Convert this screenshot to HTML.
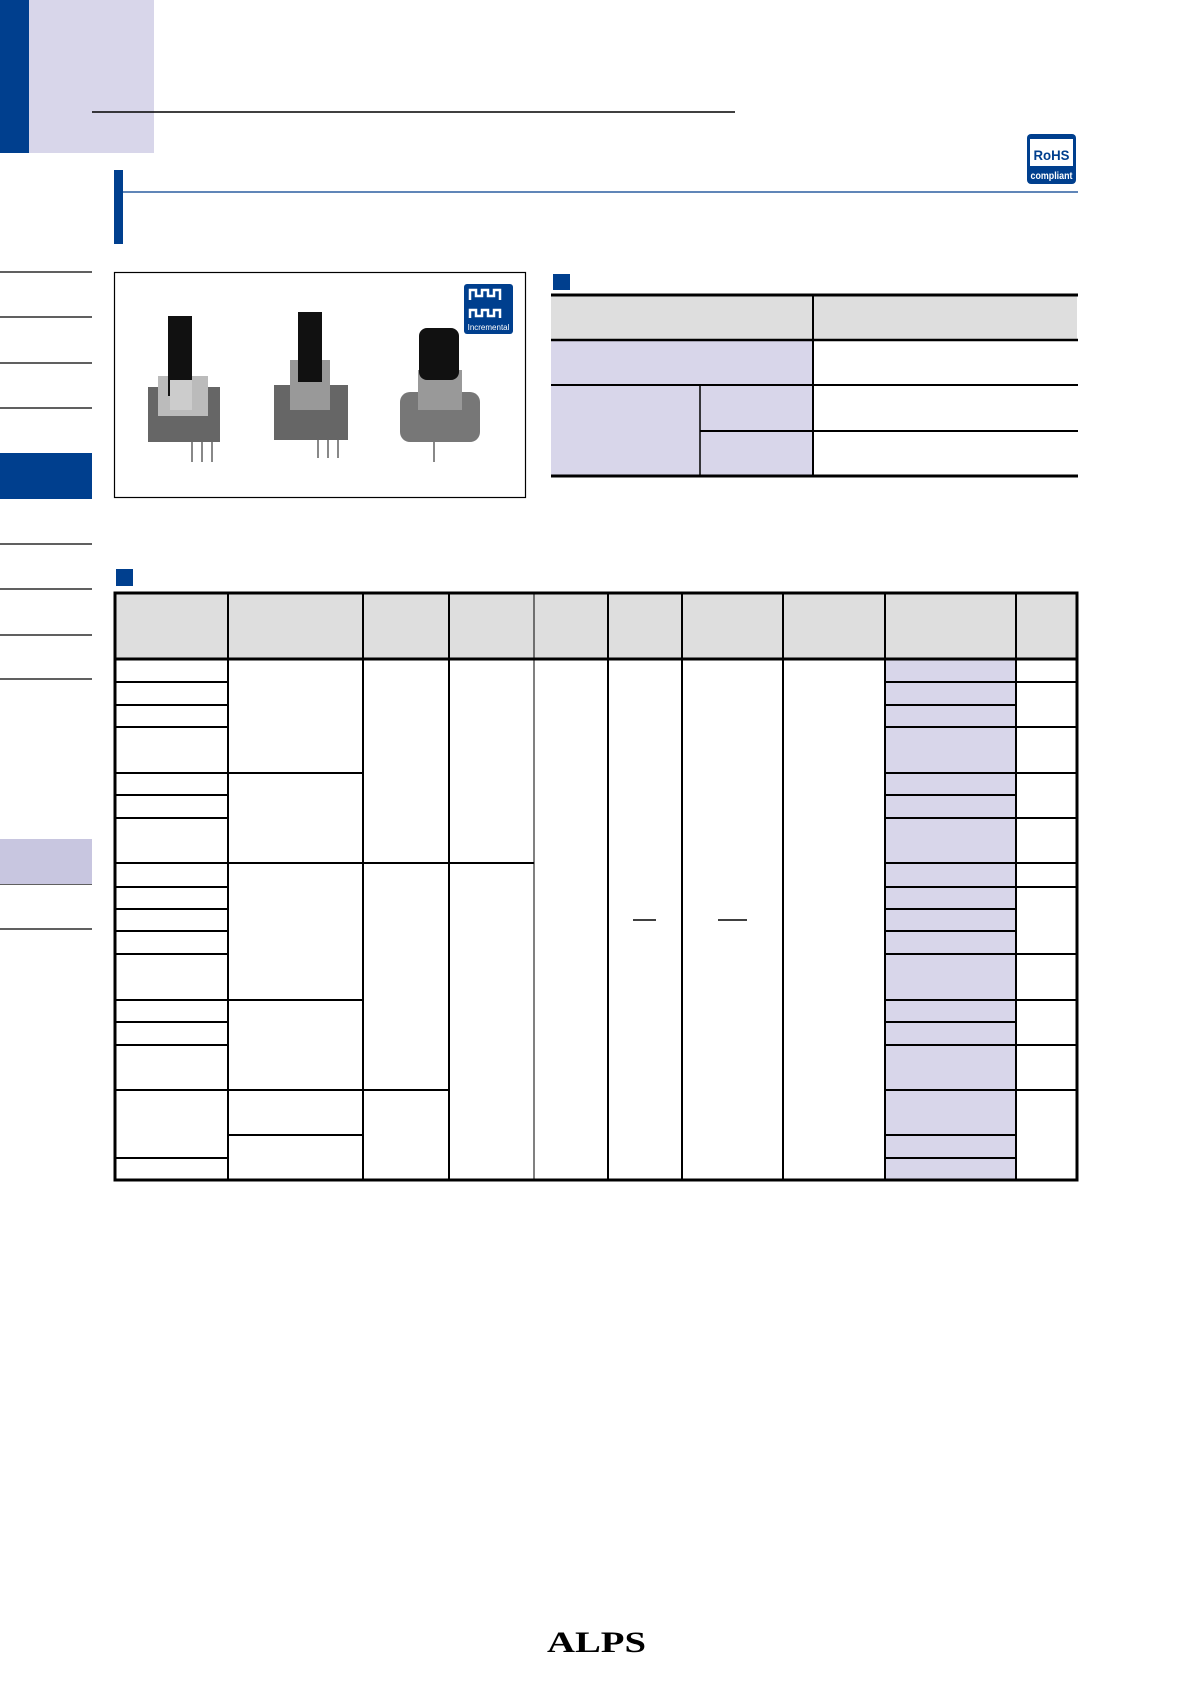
<!DOCTYPE html>
<html><head><meta charset="utf-8"><style>
html,body{margin:0;padding:0;background:#fff;}
svg{display:block;}
</style></head><body>
<svg width="1191" height="1683" viewBox="0 0 1191 1683" xmlns="http://www.w3.org/2000/svg" font-family="Liberation Sans, sans-serif">
<rect x="0" y="0" width="29" height="153" fill="#003f8e"/>
<rect x="29" y="0" width="125" height="153" fill="#d8d6ea"/>
<line x1="92" y1="112" x2="735" y2="112" stroke="#000" stroke-width="1.5"/>
<rect x="1027" y="134" width="49" height="50" rx="4" fill="#003f8e"/>
<rect x="1030" y="139" width="43" height="27" fill="#fff"/>
<text x="1051.5" y="160" font-size="14" font-weight="bold" fill="#003f8e" text-anchor="middle" textLength="36" lengthAdjust="spacingAndGlyphs">RoHS</text>
<text x="1051.5" y="179" font-size="10" font-weight="bold" fill="#fff" text-anchor="middle" textLength="42" lengthAdjust="spacingAndGlyphs">compliant</text>
<rect x="114" y="170" width="9" height="74" fill="#003f8e"/>
<line x1="123" y1="192" x2="1078" y2="192" stroke="#003f8e" stroke-width="1.2"/>
<g stroke="#000" stroke-width="1.2">
<line x1="0" y1="272" x2="92" y2="272"/><line x1="0" y1="317" x2="92" y2="317"/>
<line x1="0" y1="363" x2="92" y2="363"/><line x1="0" y1="408" x2="92" y2="408"/>
<line x1="0" y1="544" x2="92" y2="544"/><line x1="0" y1="589" x2="92" y2="589"/>
<line x1="0" y1="635" x2="92" y2="635"/><line x1="0" y1="679" x2="92" y2="679"/>
<line x1="0" y1="884" x2="92" y2="884"/><line x1="0" y1="929" x2="92" y2="929"/>
</g>
<rect x="0" y="453" width="92" height="46" fill="#003f8e"/>
<rect x="0" y="839" width="92" height="45" fill="#c8c6e0"/>
<rect x="114.5" y="272.5" width="411" height="225" fill="#fff" stroke="#000" stroke-width="1.2"/>
<rect x="464" y="284" width="49" height="50" rx="3" fill="#003f8e"/>
<path d="M470 300 v-10 h6 v6 h6 v-6 h6 v6 h6 v-6 h6 v10 M470 318 v-8 h6 v6 h6 v-6 h6 v6 h6 v-6 h6 v8" stroke="#fff" stroke-width="2.5" fill="none"/>
<text x="488.5" y="330" font-size="8" fill="#fff" text-anchor="middle">Incremental</text>
<g>
<rect x="148" y="387" width="72" height="55" fill="#666"/><rect x="158" y="376" width="50" height="40" fill="#bbb"/>
<rect x="168" y="316" width="24" height="80" fill="#111"/><rect x="170" y="380" width="22" height="30" fill="#ccc"/>
<line x1="192" y1="442" x2="192" y2="462" stroke="#888" stroke-width="2"/><line x1="202" y1="442" x2="202" y2="462" stroke="#888" stroke-width="2"/><line x1="212" y1="442" x2="212" y2="462" stroke="#888" stroke-width="2"/>
<rect x="274" y="385" width="74" height="55" fill="#666"/><rect x="290" y="360" width="40" height="50" fill="#999"/>
<rect x="298" y="312" width="24" height="70" fill="#111"/>
<line x1="318" y1="440" x2="318" y2="458" stroke="#888" stroke-width="2"/><line x1="328" y1="440" x2="328" y2="458" stroke="#888" stroke-width="2"/><line x1="338" y1="440" x2="338" y2="458" stroke="#888" stroke-width="2"/>
<rect x="400" y="392" width="80" height="50" rx="10" fill="#777"/><rect x="418" y="370" width="44" height="40" fill="#999"/>
<rect x="419" y="328" width="40" height="52" rx="8" fill="#111"/>
<line x1="434" y1="442" x2="434" y2="462" stroke="#888" stroke-width="2"/>
</g>
<rect x="553" y="274" width="17" height="16" fill="#003f8e"/>
<rect x="551" y="295" width="526" height="45" fill="#dedede"/>
<rect x="551" y="340" width="262" height="45" fill="#d8d6ea"/>
<rect x="551" y="385" width="262" height="91" fill="#d8d6ea"/>
<g stroke="#000">
<line x1="551" y1="295" x2="1078" y2="295" stroke-width="3"/>
<line x1="551" y1="476" x2="1078" y2="476" stroke-width="3"/>
<line x1="551" y1="340" x2="1078" y2="340" stroke-width="2.5"/>
<line x1="551" y1="385" x2="1078" y2="385" stroke-width="2"/>
<line x1="700" y1="431" x2="1078" y2="431" stroke-width="2"/>
<line x1="813" y1="295" x2="813" y2="476" stroke-width="2"/>
<line x1="700" y1="385" x2="700" y2="476" stroke-width="1.5"/>
</g>
<rect x="116" y="569" width="17" height="17" fill="#003f8e"/>
<rect x="114" y="592" width="963" height="67" fill="#dedede"/>
<rect x="885" y="659" width="131" height="521" fill="#d8d6ea"/>
<g stroke="#000" stroke-width="2">
<line x1="228" y1="592" x2="228" y2="1180"/><line x1="363" y1="592" x2="363" y2="1180"/>
<line x1="449" y1="592" x2="449" y2="1180"/><line x1="534" y1="592" x2="534" y2="1180" stroke-width="1"/>
<line x1="608" y1="592" x2="608" y2="1180"/><line x1="682" y1="592" x2="682" y2="1180"/>
<line x1="783" y1="592" x2="783" y2="1180"/><line x1="885" y1="592" x2="885" y2="1180"/>
<line x1="1016" y1="592" x2="1016" y2="1180"/>
<line x1="114" y1="659" x2="1078" y2="659" stroke-width="3"/>
<path d="M114 682H228M114 705H228M114 727H228M114 773H228M114 795H228M114 818H228M114 863H228M114 887H228M114 909H228M114 931H228M114 954H228M114 1000H228M114 1022H228M114 1045H228M114 1090H228M114 1158H228"/>
<path d="M228 773H363M228 863H363M228 1000H363M228 1090H363M228 1135H363"/>
<path d="M363 863H534M363 1090H449"/>
<path d="M885 682H1016M885 705H1016M885 727H1016M885 773H1016M885 795H1016M885 818H1016M885 863H1016M885 887H1016M885 909H1016M885 931H1016M885 954H1016M885 1000H1016M885 1022H1016M885 1045H1016M885 1090H1016M885 1135H1016M885 1158H1016"/>
<path d="M1016 682H1078M1016 727H1078M1016 773H1078M1016 818H1078M1016 863H1078M1016 887H1078M1016 954H1078M1016 1000H1078M1016 1045H1078M1016 1090H1078"/>
<path d="M633 920H656M718 920H747" stroke-width="1.5"/>
<rect x="115" y="593" width="962" height="587" fill="none" stroke-width="3"/>
</g>
<text x="547" y="1652" font-family="Liberation Serif, serif" font-size="30" font-weight="bold" fill="#000" textLength="99" lengthAdjust="spacingAndGlyphs">ALPS</text>
</svg>
</body></html>
